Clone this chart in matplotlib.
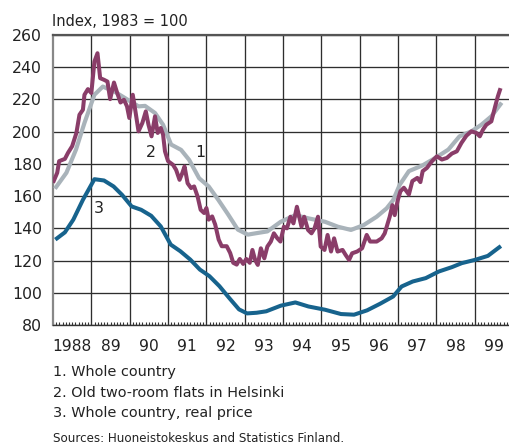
import matplotlib
matplotlib.use("Agg")
import matplotlib.pyplot as plt
import numpy as np

plt.rcParams['font.family'] = ['DejaVu Sans']

# ---- data ----
whole_t = [1988.05, 1988.35, 1988.6, 1988.82, 1989.08, 1989.3, 1989.63, 1989.97, 1990.23, 1990.4,
           1990.66, 1990.87, 1991.08, 1991.34, 1991.55, 1991.81, 1992.06, 1992.31, 1992.57, 1992.82,
           1993.08, 1993.33, 1993.59, 1993.94, 1994.32, 1994.66, 1995.09, 1995.43, 1995.77, 1996.1,
           1996.44, 1996.7, 1996.87, 1997.04, 1997.28, 1997.63, 1997.97, 1998.31, 1998.6, 1998.91,
           1999.17, 1999.43, 1999.7]
whole_v = [164.6, 174.5, 188.9, 205.4, 222.9, 228.0, 224.5, 219.5, 215.7, 216.0,
           211.6, 204.3, 192.0, 188.7, 182.5, 171.1, 166.0, 157.7, 148.5, 139.2,
           136.1, 137.1, 138.1, 144.1, 148.2, 146.2, 144.1, 141.0, 139.0, 142.0,
           147.2, 152.4, 157.5, 167.0, 175.5, 179.0, 183.7, 188.9, 197.1, 200.2,
           204.3, 209.5, 218.0]

hel_t = [1988.0, 1988.11, 1988.16, 1988.31, 1988.39, 1988.5, 1988.61, 1988.69, 1988.78, 1988.82,
         1988.91, 1989.0, 1989.08, 1989.16, 1989.23, 1989.33, 1989.42, 1989.49, 1989.59, 1989.67,
         1989.76, 1989.85, 1989.93, 1989.99, 1990.08, 1990.15, 1990.23, 1990.33, 1990.42, 1990.49,
         1990.57, 1990.66, 1990.73, 1990.81, 1990.87, 1990.92, 1991.0, 1991.13, 1991.21, 1991.3,
         1991.37, 1991.43, 1991.51, 1991.6, 1991.68, 1991.77, 1991.85, 1991.94, 1992.0, 1992.06,
         1992.15, 1992.23, 1992.32, 1992.4, 1992.53, 1992.62, 1992.7, 1992.79, 1992.87, 1992.96,
         1993.04, 1993.13, 1993.2, 1993.27, 1993.34, 1993.42, 1993.51, 1993.59, 1993.68, 1993.76,
         1993.85, 1993.93, 1994.02, 1994.1, 1994.19, 1994.27, 1994.36, 1994.42, 1994.48, 1994.55,
         1994.65, 1994.74, 1994.82, 1994.91, 1994.98, 1995.08, 1995.16, 1995.25, 1995.33, 1995.42,
         1995.55, 1995.63, 1995.72, 1995.8, 1995.93, 1996.06, 1996.18, 1996.27, 1996.44, 1996.57,
         1996.65, 1996.78, 1996.85, 1996.91, 1996.99, 1997.06, 1997.15, 1997.28, 1997.37, 1997.5,
         1997.58, 1997.64, 1997.75, 1997.88, 1998.01, 1998.14, 1998.27, 1998.4, 1998.53, 1998.65,
         1998.78, 1998.91, 1999.04, 1999.13, 1999.21, 1999.3, 1999.43, 1999.53, 1999.6, 1999.67]
hel_v = [168.3, 174.5, 181.7, 183.1, 186.8, 191.0, 199.2, 210.5, 213.6, 222.9,
         226.4, 224.0, 243.5, 248.7, 233.2, 232.2, 231.1, 220.2, 230.5, 224.3,
         218.1, 219.8, 215.7, 208.5, 222.9, 212.6, 200.2, 205.4, 212.6, 204.3,
         197.1, 209.5, 199.2, 202.3, 198.2, 187.8, 181.7, 179.4, 176.3, 170.1,
         174.2, 178.4, 168.0, 165.0, 166.0, 159.8, 151.5, 149.5, 152.6, 145.4,
         147.4, 142.3, 133.0, 128.9, 128.9, 124.7, 118.6, 117.5, 121.0, 117.9,
         121.0, 118.6, 126.6, 120.4, 117.3, 127.6, 121.4, 128.7, 131.8, 136.9,
         133.8, 131.8, 141.0, 140.0, 147.2, 143.1, 153.4, 147.2, 141.0, 147.2,
         139.0, 136.9, 140.0, 147.2, 128.7, 126.6, 135.9, 125.6, 133.8, 125.6,
         126.6, 123.5, 120.4, 124.5, 125.6, 127.6, 135.9, 131.8, 131.8, 133.8,
         136.9, 147.2, 154.4, 148.2, 157.5, 163.0, 165.2, 161.0, 169.3, 171.3,
         168.7, 175.5, 177.5, 181.6, 184.7, 182.7, 183.7, 186.4, 187.8, 193.0,
         197.5, 200.2, 199.2, 197.1, 201.2, 204.3, 206.4, 215.7, 221.9, 227.0]

real_t = [1988.06, 1988.31, 1988.53, 1988.78, 1989.08, 1989.33, 1989.58, 1989.8, 1990.05, 1990.3,
          1990.56, 1990.81, 1991.07, 1991.32, 1991.58, 1991.83, 1992.08, 1992.34, 1992.59, 1992.85,
          1993.06, 1993.31, 1993.56, 1993.94, 1994.32, 1994.66, 1995.09, 1995.51, 1995.85, 1996.19,
          1996.53, 1996.87, 1997.09, 1997.38, 1997.72, 1998.06, 1998.4, 1998.66, 1999.0, 1999.34,
          1999.6, 1999.68]
real_v = [133.0, 137.5, 145.4, 157.7, 170.5, 169.7, 166.0, 160.8, 153.6, 151.5,
          147.8, 141.2, 129.9, 125.8, 120.6, 114.4, 110.3, 104.1, 96.9, 89.7,
          87.2, 87.6, 88.5, 92.0, 94.0, 91.5, 89.5, 86.8, 86.4, 89.1,
          93.2, 97.7, 103.9, 107.0, 109.1, 113.2, 115.9, 118.4, 120.4, 122.9,
          127.6, 129.0]

years = list(range(1988, 2000))
year_labels = ["1988", "89", "90", "91", "92", "93", "94", "95", "96", "97", "98", "99"]
yticks = list(range(80, 261, 20))

title = "Index, 1983 = 100"
legend_lines = ["1. Whole country", "2. Old two-room flats in Helsinki", "3. Whole country, real price"]
source = "Sources: Huoneistokeskus and Statistics Finland."

c_whole = "#a9b3ba"
c_hel = "#8a3d69"
c_real = "#17638d"

W, H = 510, 444
fig = plt.figure(figsize=(W / 100, H / 100), dpi=100)
ax = fig.add_axes([53 / W, 1 - 325 / H, 1 - 53 / W, 290 / H])

ax.set_xlim(1988, 1988 + (510 - 53) / 39)
ax.set_ylim(80, 260)

ax.plot(real_t, real_v, color=c_real, lw=2.9, solid_capstyle='butt', solid_joinstyle='round', zorder=3)
ax.plot(whole_t, whole_v, color=c_whole, lw=3.0, solid_capstyle='butt', solid_joinstyle='round', zorder=3)
ax.plot(hel_t, hel_v, color=c_hel, lw=2.9, solid_capstyle='butt', solid_joinstyle='round', zorder=4)

ax.set_yticks(yticks)
ax.set_yticklabels([str(v) for v in yticks], fontsize=11.3, color="#222222")
ax.tick_params(axis='y', length=0, pad=8)

ax.set_xticks(years[1:])
ax.set_xticklabels([])
ax.tick_params(axis='x', which='major', length=0)
ax.set_xticks(np.arange(1988, 2000, 1 / 12), minor=True)
ax.tick_params(axis='x', which='minor', direction='in', length=2.3, width=0.8, color="#333333")

ax.grid(True, which='major', color="#2e2e2e", lw=0.95, zorder=1)
ax.set_axisbelow(True)

ax.spines['right'].set_visible(False)
ax.spines['top'].set_color("#555555")
ax.spines['top'].set_linewidth(1.6)
ax.spines['left'].set_color("#888888")
ax.spines['left'].set_linewidth(1.6)
ax.spines['bottom'].set_color("#333333")
ax.spines['bottom'].set_linewidth(1.0)

for yr, lab in zip(years, year_labels):
    ax.annotate(lab, xy=(yr + 0.5, 0), xycoords=('data', 'axes fraction'),
                xytext=(0, -25.7), textcoords='offset pixels', ha='center', va='baseline',
                fontsize=11.2, color="#222222", annotation_clip=False)

ax.text(1990.56, 186.8, "2", fontsize=11.3, ha='center', va='center', color="#222222")
ax.text(1991.84, 186.8, "1", fontsize=11.3, ha='center', va='center', color="#222222")
ax.text(1989.2, 152.2, "3", fontsize=11.3, ha='center', va='center', color="#222222")

fig.text(52 / W, 1 - 26 / H, title, fontsize=10.5, ha='left', va='baseline', color="#222222")
for txt, base in zip(legend_lines, [376, 397, 417]):
    fig.text(53 / W, 1 - base / H, txt, fontsize=10.4, ha='left', va='baseline', color="#222222")
fig.text(53 / W, 1 - 442 / H, source, fontsize=8.6, ha='left', va='baseline', color="#222222")

fig.savefig("out.png", dpi=100)
